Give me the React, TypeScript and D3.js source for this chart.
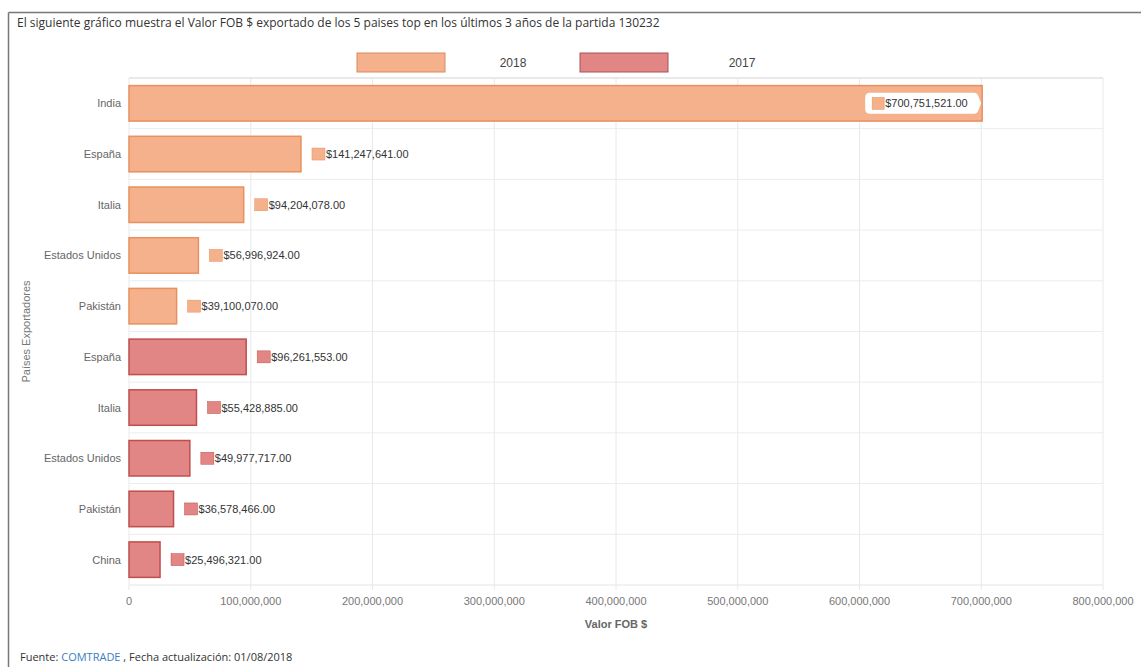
import React from "react";
import * as d3 from "d3";

const countries2018 = ["India", "España", "Italia", "Estados Unidos", "Pakistán"];
const values2018 = [700751521, 141247641, 94204078, 56996924, 39100070];
const countries2017 = ["España", "Italia", "Estados Unidos", "Pakistán", "China"];
const values2017 = [96261553, 55428885, 49977717, 36578466, 25496321];
const xTicks = [0, 100000000, 200000000, 300000000, 400000000, 500000000, 600000000, 700000000, 800000000];
const seriesNames = ["2018", "2017"];

const W = 1141, H = 667;
const plot = { left: 129, right: 1103, top: 78, bottom: 585 };
const colors = {
  "2018": { fill: "#f5b18c", stroke: "#e8905f" },
  "2017": { fill: "#e28585", stroke: "#c04e4e" },
};

export default function App() {
  const rows = [
    ...countries2018.map((c, i) => ({ key: "a" + i, name: c, value: values2018[i], s: "2018" })),
    ...countries2017.map((c, i) => ({ key: "b" + i, name: c, value: values2017[i], s: "2017" })),
  ];
  const x = d3.scaleLinear().domain([0, 800000000]).range([plot.left, plot.right]);
  const y = d3.scaleBand().domain(rows.map(r => r.key)).range([plot.top, plot.bottom]).paddingInner(0.3).paddingOuter(0.15);
  const fmtTick = d3.format(",");
  const fmtVal = (v: number) => "$" + d3.format(",.2f")(v);
  const sans = "Arial, 'Liberation Sans', sans-serif";
  const round = "'Open Sans', sans-serif";
  const bandEdges = rows.map((_, i) => plot.top + i * (plot.bottom - plot.top) / rows.length);

  return (
    <svg width={W} height={H} style={{ position: "absolute", left: 0, top: 0, background: "#fff" }}>
      <line x1={8.5} y1={12.5} x2={W} y2={12.5} stroke="#777" strokeWidth={1.5} />
      <line x1={8.5} y1={12.5} x2={8.5} y2={H} stroke="#777" strokeWidth={1.5} />
      <text x={17} y={27} fontFamily={round} fontSize={12} fill="#333">El siguiente gráfico muestra el Valor FOB $ exportado de los 5 paises top en los últimos 3 años de la partida 130232</text>

      {/* legend */}
      {seriesNames.map((s, i) => (
        <g key={s}>
          <rect x={357 + i * 223} y={53} width={88} height={19} fill={colors[s].fill} stroke={i === 0 ? "#d98b62" : "#a55555"} strokeWidth={1} />
          <text x={513 + i * 229} y={67} fontFamily={sans} fontSize={12} fill="#444" textAnchor="middle">{s}</text>
        </g>
      ))}

      {/* grid */}
      {xTicks.map(t => (
        <line key={t} x1={x(t)} x2={x(t)} y1={plot.top} y2={plot.bottom + 5} stroke="#e8e8e8" />
      ))}
      {bandEdges.map((e, i) => (
        <line key={i} x1={plot.left} x2={plot.right} y1={e} y2={e} stroke="#ececec" />
      ))}
      <line x1={plot.left} x2={plot.right} y1={plot.bottom} y2={plot.bottom} stroke="#e4e4e4" />
      <line x1={plot.left} x2={plot.right} y1={plot.top} y2={plot.top} stroke="#e4e4e4" strokeWidth={1.5} />

      {/* bars */}
      {rows.map(r => {
        const yy = y(r.key)!;
        const bw = y.bandwidth();
        const xe = x(r.value);
        const inside = xe + 130 > plot.right;
        const c = colors[r.s];
        const cy = yy + bw / 2;
        return (
          <g key={r.key}>
            <text x={121} y={cy + 4} textAnchor="end" fontFamily={sans} fontSize={11} fill="#666">{r.name}</text>
            <rect x={plot.left} y={yy} width={xe - plot.left} height={bw} fill={c.fill} stroke={c.stroke} strokeWidth={1.5} />
            {inside ? (
              <g>
                <path d={`M${xe - 112},${cy - 10.5} h104 q3,0 4,3 l3,7.5 l-3,7.5 q-1,3 -4,3 h-104 q-5,0 -5,-5 v-11 q0,-5 5,-5 z`} fill="#fff" />
                <rect x={xe - 110} y={cy - 6} width={12} height={12} fill={c.fill} stroke={c.stroke} strokeWidth={0.5} />
                <text x={xe - 97} y={cy + 4} fontFamily={sans} fontSize={11} fill="#333">{fmtVal(r.value)}</text>
              </g>
            ) : (
              <g>
                <rect x={xe + 11} y={cy - 6} width={13} height={12} fill={c.fill} stroke={c.stroke} strokeWidth={0.5} />
                <text x={xe + 25} y={cy + 4} fontFamily={sans} fontSize={11} fill="#333">{fmtVal(r.value)}</text>
              </g>
            )}
          </g>
        );
      })}

      {/* x axis */}
      {xTicks.map(t => (
        <text key={t} x={x(t)} y={605} textAnchor="middle" fontFamily={sans} fontSize={11} fill="#777">{fmtTick(t)}</text>
      ))}
      <text x={(plot.left + plot.right) / 2} y={628} textAnchor="middle" fontFamily={sans} fontSize={11} fontWeight="bold" fill="#666">Valor FOB $</text>
      <text transform={`translate(30,${(plot.top + plot.bottom) / 2}) rotate(-90)`} textAnchor="middle" fontFamily={sans} fontSize={11} fill="#777">Países Exportadores</text>

      <text x={20} y={661} fontFamily={round} fontSize={11} fill="#333">
        Fuente: <tspan fill="#3b7dc4">COMTRADE</tspan>  , Fecha actualización: 01/08/2018
      </text>
    </svg>
  );
}
